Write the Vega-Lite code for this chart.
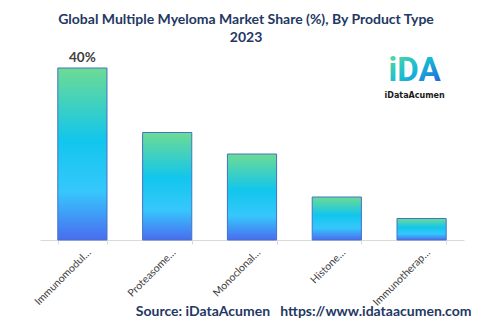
{
  "$schema": "https://vega.github.io/schema/vega-lite/v6.json",
  "width": 424,
  "height": 172,
  "autosize": {"type": "none"},
  "padding": {"left": 40, "top": 68, "right": 20, "bottom": 81},
  "background": "white",
  "config": {"view": {"stroke": null}, "font": "Lato"},
  "title": {
    "text": ["Global Multiple Myeloma Market Share (%), By Product Type", "2023"],
    "font": "Lato",
    "fontSize": 14,
    "fontWeight": "bold",
    "color": "#1f3864",
    "anchor": "middle",
    "dx": -6,
    "offset": 6,
    "lineHeight": 18
  },
  "data": {
    "values": [
      {"type": "Immunomodul…", "share": 40},
      {"type": "Proteasome…", "share": 25},
      {"type": "Monoclonal…", "share": 20},
      {"type": "Histone…", "share": 10},
      {"type": "Immunotherap…", "share": 5}
    ]
  },
  "layer": [
    {
      "mark": {
        "type": "bar",
        "stroke": "#4472c4",
        "strokeWidth": 1,
        "color": {
          "gradient": "linear",
          "x1": 0, "y1": 0, "x2": 0, "y2": 1,
          "stops": [
            {"offset": 0, "color": "#6ddb94"},
            {"offset": 0.42, "color": "#12c6ec"},
            {"offset": 0.72, "color": "#36c7fc"},
            {"offset": 1, "color": "#4a6cf0"}
          ]
        }
      },
      "encoding": {
        "x": {
          "field": "type",
          "type": "nominal",
          "sort": null,
          "scale": {"paddingInner": 0.42, "paddingOuter": 0.21},
          "axis": {
            "title": "Source: iDataAcumen\u00a0\u00a0\u00a0https://www.idataacumen.com",
            "titleFont": "Lato",
            "titleFontSize": 14,
            "titleFontWeight": "bold",
            "titleColor": "#1f3864",
            "titleAnchor": "end",
            "titleBaseline": "alphabetic",
            "titleY": 75,
            "titleX": 431,
            "labelAngle": -45,
            "labelFont": "Lato",
            "labelFontSize": 10.5,
            "labelColor": "#404040",
            "labelPadding": 3,
            "labelOffset": 3,
            "domainColor": "#d9d9d9",
            "tickColor": "#d9d9d9",
            "tickBand": "extent",
            "tickSize": 4,
            "labelLimit": 200
          }
        },
        "y": {
          "field": "share",
          "type": "quantitative",
          "scale": {"domain": [0, 40]},
          "axis": null
        }
      }
    },
    {
      "transform": [{"filter": "datum.share == 40"}],
      "mark": {"type": "text", "dy": -10, "fontSize": 13.5, "fontWeight": "bold", "color": "#404040", "font": "Lato"},
      "encoding": {
        "x": {"field": "type", "type": "nominal", "sort": null},
        "y": {"field": "share", "type": "quantitative"},
        "text": {"value": "40%"}
      }
    },
    {
      "data": {"values": [{"type": "Immunotherap…", "pos": 39.2, "label": "iDA"}]},
      "mark": {
        "type": "text",
        "fontSize": 33,
        "fontWeight": "bold",
        "font": "Roboto",
        "dx": -7,
        "baseline": "middle",
        "clip": false,
        "fill": {
          "gradient": "linear",
          "x1": 0, "y1": 0, "x2": 1, "y2": 1,
          "stops": [
            {"offset": 0, "color": "#5ee08f"},
            {"offset": 0.5, "color": "#17b8d8"},
            {"offset": 1, "color": "#2a4fd8"}
          ]
        }
      },
      "encoding": {
        "x": {"field": "type", "type": "nominal", "sort": null},
        "y": {"field": "pos", "type": "quantitative"},
        "text": {"field": "label"}
      }
    },
    {
      "data": {"values": [{"type": "Immunotherap…", "pos": 33.4, "label": "iDataAcumen"}]},
      "mark": {"type": "text", "fontSize": 8, "fontWeight": "bold", "font": "DejaVu Sans", "dx": -7, "color": "#1a1a1a", "baseline": "middle"},
      "encoding": {
        "x": {"field": "type", "type": "nominal", "sort": null},
        "y": {"field": "pos", "type": "quantitative"},
        "text": {"field": "label"}
      }
    }
  ]
}
